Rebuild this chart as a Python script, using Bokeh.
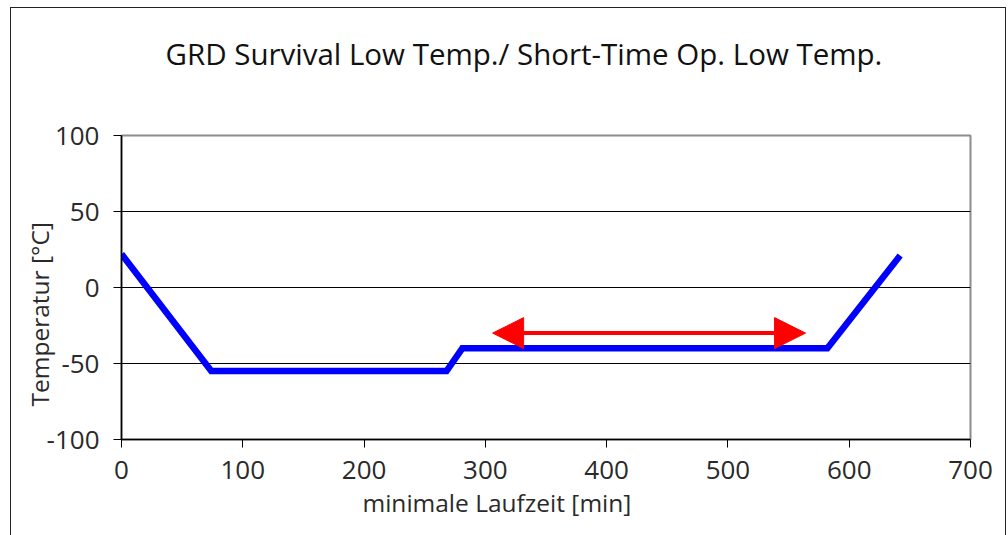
from bokeh.plotting import figure
from bokeh.models import Range1d, Arrow, NormalHead, Title, FixedTicker
from bokeh.embed import file_html
from bokeh.resources import INLINE

time_min = [0, 74, 268, 281, 582, 642]
temp_c = [22, -55, -55, -40, -40, 21]
arrow_x = [306, 564]
arrow_y = -30
x_ticks = [0, 100, 200, 300, 400, 500, 600, 700]
y_ticks = [-100, -50, 0, 50, 100]

FONT = "Open Sans"

p = figure(width=996, height=528, output_backend="svg", toolbar_location=None,
           x_range=Range1d(0, 700), y_range=Range1d(-100, 100),
           min_border_left=110, min_border_right=37, min_border_top=127, min_border_bottom=97)
p.styles = {"border": "1.5px solid #222", "border-bottom": "none", "box-sizing": "border-box",
            "margin-left": "10px", "margin-top": "7px"}

# trailing empty line lifts the title higher above the plot frame
p.title.text = "GRD Survival Low Temp./ Short-Time Op. Low Temp.\n"
p.title.align = "left"
p.title.offset = 44
p.title.text_font = FONT
p.title.text_font_size = "29.5px"
p.title.text_font_style = "normal"
p.title.text_color = "#111"
p.title.standoff = 42

p.line(time_min, temp_c, line_color="#0000ff", line_width=6.5, line_join="miter")
p.add_layout(Arrow(start=NormalHead(size=31, fill_color="#ff0000", line_color="#ff0000"),
                   end=NormalHead(size=31, fill_color="#ff0000", line_color="#ff0000"),
                   x_start=arrow_x[0], x_end=arrow_x[1], y_start=arrow_y, y_end=arrow_y,
                   line_color="#ff0000", line_width=4))

p.xaxis.ticker = FixedTicker(ticks=x_ticks)
p.yaxis.ticker = FixedTicker(ticks=y_ticks)
p.yaxis.major_label_overrides = {t: str(t) for t in y_ticks}
for ax in (p.xaxis, p.yaxis):
    ax.major_label_text_font = FONT
    ax.major_label_text_font_size = "26px"
    ax.major_label_text_color = "#2a2a2a"
    ax.axis_line_color = "#000"
    ax.axis_line_width = 1.5
    ax.major_tick_line_color = "#000"
    ax.major_tick_in = 0
    ax.major_tick_out = 8
    ax.minor_tick_line_color = None
p.yaxis.major_label_standoff = 14
p.xaxis.major_label_standoff = 13

p.xgrid.grid_line_color = None
p.ygrid.grid_line_color = "#000"
p.ygrid.grid_line_width = 1
p.outline_line_color = "#8c8c8c"
p.outline_line_width = 2

xl = Title(text="minimale Laufzeit [min]", align="left", offset=241, standoff=4,
           text_font=FONT, text_font_size="24.5px", text_font_style="normal", text_color="#2a2a2a")
p.add_layout(xl, "below")

yl = Title(text="Temperatur [°C]", align="left", offset=33, standoff=-25,
           text_font=FONT, text_font_size="24.5px", text_font_style="normal", text_color="#2a2a2a")
p.add_layout(yl, "left")

open("out.html", "w").write(file_html(p, INLINE))
